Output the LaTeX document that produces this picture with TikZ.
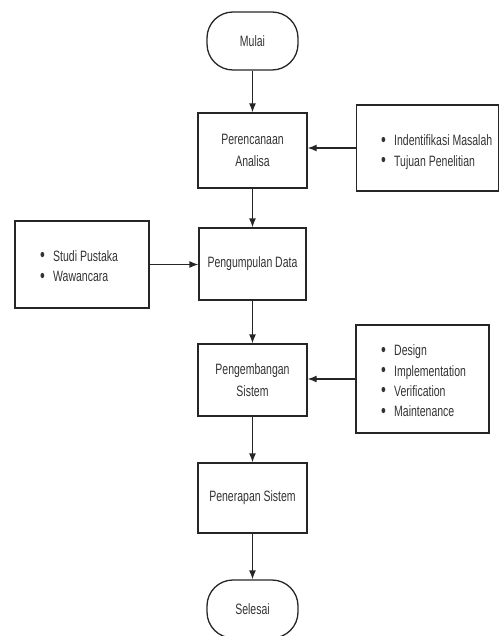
\documentclass[tikz,border=0pt]{standalone}
\usepackage{fontspec}
\setmainfont[FakeStretch=0.7]{Liberation Sans}
\usetikzlibrary{arrows.meta}
\newcommand\lbul{\makebox[13pt][l]{\raisebox{-0.4pt}{\scalebox{1.3}{•}}}}
\begin{document}
\begin{tikzpicture}[x=1pt,y=-1pt,
  every node/.style={font=\fontsize{15}{21.5}\selectfont, text=black!80},
  box/.style={draw=black!85, line width=1.3pt, minimum width=109pt, minimum height=72pt, inner sep=2pt, align=center},
  term/.style={box, rounded corners=26pt, minimum width=91pt, minimum height=58pt},
  listbox/.style={draw=black!85, line width=1.3pt, inner sep=0pt},
  listtext/.style={anchor=west, align=left, inner sep=0pt, font=\fontsize{15}{20.3}\selectfont},
  arr/.style={draw=black!85, line width=1.3pt, -{Latex[length=9pt,width=7pt]}}
]
\useasboundingbox (0,0) rectangle (500,636);
\node[term] (mulai) at (252.5,41) {Mulai};
\node[box, minimum height=75pt] (ren) at (252.5,150.5) {Perencanaan\\Analisa};
\node[box, minimum width=107pt] (kum) at (252.5,264) {Pengumpulan Data};
\node[box] (bang) at (252.5,380) {Pengembangan\\Sistem};
\node[box, minimum height=70pt] (terap) at (252.5,498) {Penerapan Sistem};
\node[term] (selesai) at (252.5,609) {Selesai};

\node[listbox, minimum width=142pt, minimum height=86pt] (r1) at (427.5,148) {};
\node[listtext] (r1t) at (381,152) {\lbul Indentifikasi Masalah\\\lbul Tujuan Penelitian};
\node[listbox, minimum width=134pt, minimum height=87pt] (l1) at (82,264.5) {};
\node[listtext] (l1t) at (40,266.5) {\lbul Studi Pustaka\\\lbul Wawancara};
\node[listbox, minimum width=133pt, minimum height=108pt] (r2) at (422.5,379) {};
\node[listtext] (r2t) at (381,381) {\lbul Design\\\lbul Implementation\\\lbul Verification\\\lbul Maintenance};

\draw[arr] (mulai) -- (ren);
\draw[arr] (ren) -- (kum);
\draw[arr] (kum) -- (bang);
\draw[arr] (bang) -- (terap);
\draw[arr] (terap) -- (selesai);
\draw[arr] (r1.west) -- (ren.east |- r1.west);
\draw[arr] (l1.east) -- (kum.west |- l1.east);
\draw[arr] (r2.west) -- (bang.east |- r2.west);
\end{tikzpicture}
\end{document}
